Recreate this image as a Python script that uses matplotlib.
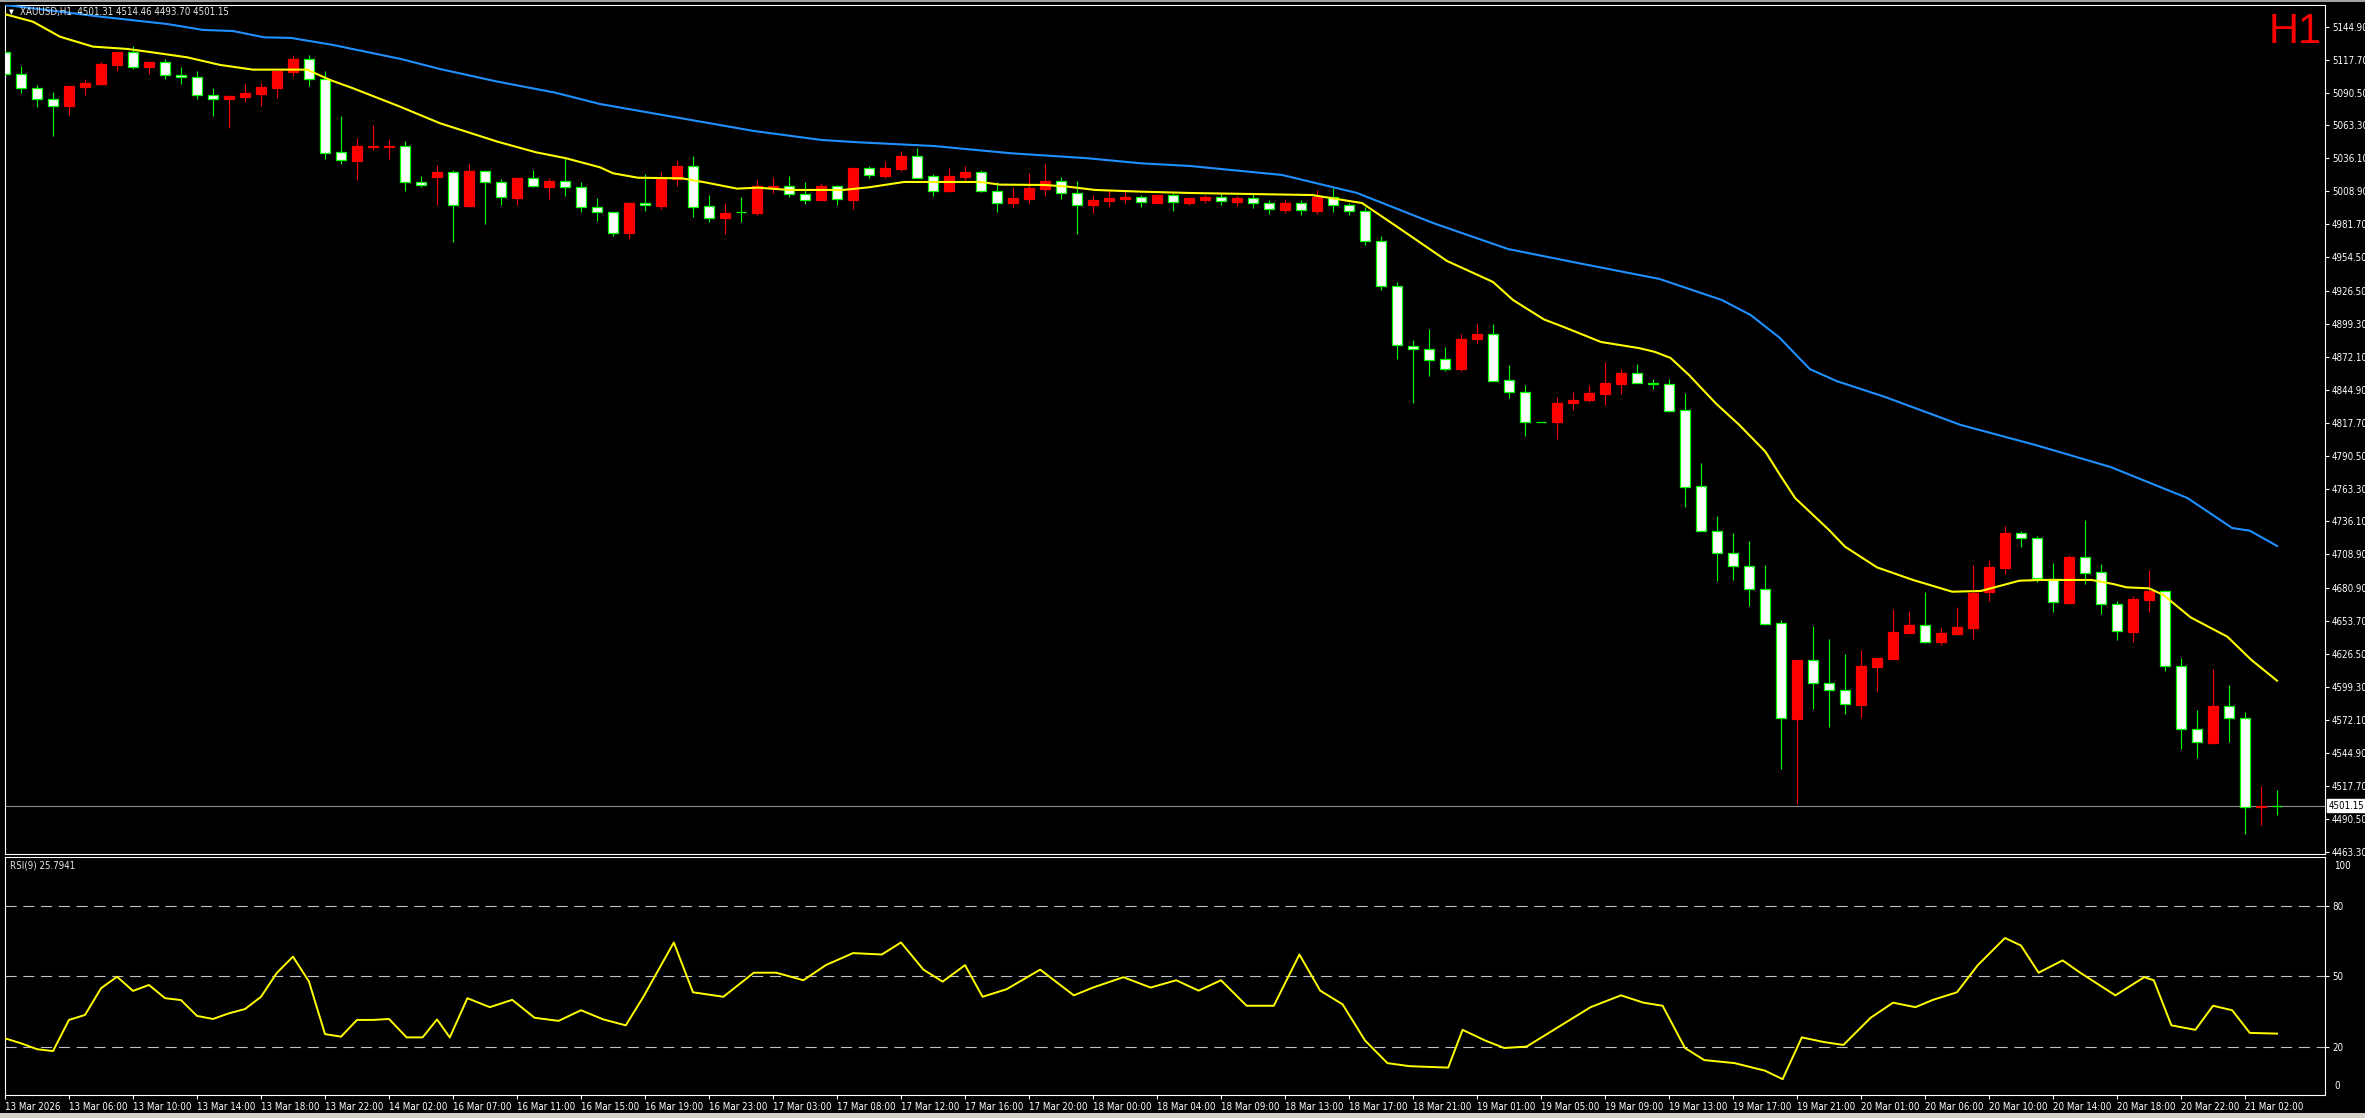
import matplotlib
matplotlib.use("Agg")
import matplotlib.pyplot as plt
from matplotlib import font_manager
from matplotlib.patches import Rectangle
import matplotlib.transforms as mtrans

# XAUUSD H1 bars (price units)
opens = [5123.8, 5105.6, 5094.0, 5084.9, 5079.6, 5095.3, 5097.8, 5113.5, 5123.8, 5111.9,
         5115.5, 5104.7, 5103.1, 5088.2, 5084.9, 5087.1, 5089.6, 5094.5, 5107.7, 5118.0,
         5101.4, 5041.1, 5034.2, 5045.8, 5045.8, 5046.1, 5016.4, 5021.0, 5024.6, 4997.0,
         5025.4, 5016.4, 5003.6, 5019.6, 5012.7, 5017.2, 5012.2, 4995.7, 4991.6, 4974.5,
         4999.0, 4997.0, 5019.3, 5029.6, 4996.5, 4987.1, 4992.2, 4991.2, 5012.5, 5013.0,
         5006.4, 5001.7, 5013.0, 5001.7, 5027.9, 5021.6, 5027.3, 5038.1, 5021.3, 5008.9,
         5020.7, 5024.6, 5009.4, 4999.2, 5002.5, 5010.8, 5017.2, 5007.3, 4997.6, 5000.9,
         5002.5, 5004.0, 4999.2, 5005.6, 4999.2, 5001.7, 5004.2, 5000.1, 5003.4, 4999.2,
         4993.4, 4999.2, 4992.6, 5004.2, 4997.6, 4992.6, 4967.8, 4930.7, 4880.8, 4878.4,
         4870.1, 4862.2, 4886.9, 4890.8, 4852.7, 4842.7, 4818.5, 4818.5, 4834.4, 4836.4,
         4841.5, 4849.8, 4858.6, 4850.9, 4849.4, 4827.9, 4765.1, 4727.9, 4709.9, 4699.0,
         4680.1, 4652.0, 4573.2, 4621.4, 4602.4, 4596.6, 4584.7, 4616.1, 4622.7, 4644.2,
         4650.3, 4636.8, 4643.4, 4648.4, 4677.6, 4697.9, 4726.3, 4722.2, 4688.8, 4669.0,
         4706.5, 4694.1, 4667.7, 4645.0, 4671.5, 4678.4, 4616.5, 4564.4, 4553.1, 4583.4,
         4573.5, 4500.0, 4501.31]
highs = [5129.8, 5112.4, 5096.7, 5090.9, 5095.9, 5101.7, 5115.7, 5124.0, 5128.9, 5116.6,
         5118.0, 5111.6, 5108.3, 5094.3, 5088.5, 5097.6, 5098.4, 5108.3, 5121.5, 5121.5,
         5108.3, 5071.1, 5052.9, 5063.4, 5052.1, 5050.5, 5021.6, 5030.6, 5026.5, 5031.5,
         5026.5, 5019.1, 5021.0, 5026.5, 5019.9, 5036.7, 5016.6, 5003.1, 4991.6, 5000.1,
         5023.2, 5024.9, 5034.8, 5038.1, 5005.9, 4999.2, 5004.2, 5018.2, 5020.7, 5021.6,
         5016.6, 5015.5, 5014.1, 5028.2, 5029.8, 5033.9, 5042.2, 5044.7, 5023.2, 5028.2,
         5029.8, 5026.3, 5016.6, 5011.6, 5024.0, 5031.5, 5020.7, 5017.4, 5005.9, 5010.0,
         5009.4, 5005.9, 5005.9, 5007.3, 5003.4, 5005.9, 5007.5, 5005.0, 5006.7, 5001.7,
         5002.5, 5001.7, 5010.0, 5011.6, 4999.2, 4995.9, 4972.0, 4934.0, 4886.0, 4895.2,
         4880.2, 4890.8, 4899.3, 4899.3, 4865.4, 4848.9, 4818.6, 4838.9, 4843.0, 4848.9,
         4867.8, 4862.2, 4866.3, 4853.9, 4853.9, 4842.3, 4784.5, 4740.6, 4726.7, 4719.9,
         4700.2, 4654.7, 4621.7, 4649.8, 4639.0, 4626.6, 4629.9, 4623.3, 4663.8, 4662.1,
         4677.8, 4647.9, 4665.2, 4700.2, 4704.3, 4732.4, 4728.2, 4724.1, 4701.8, 4708.4,
         4737.3, 4701.0, 4670.4, 4674.6, 4696.0, 4679.5, 4623.3, 4580.4, 4614.2, 4601.0,
         4578.5, 4517.6, 4514.46]
lows = [5102.3, 5090.4, 5078.8, 5054.6, 5071.9, 5088.5, 5096.7, 5108.6, 5110.2, 5106.1,
        5101.9, 5097.8, 5085.4, 5071.4, 5061.5, 5082.9, 5079.6, 5086.2, 5104.4, 5096.2,
        5035.8, 5031.7, 5018.5, 5043.3, 5035.8, 5009.4, 5012.2, 4997.8, 4967.3, 4996.2,
        4982.1, 4997.8, 4997.8, 5012.5, 5002.8, 5005.3, 4992.1, 4984.4, 4972.2, 4969.5,
        4992.9, 4994.3, 5013.3, 4987.9, 4983.8, 4973.9, 4983.8, 4989.3, 5007.5, 5004.2,
        4998.4, 5001.7, 4997.6, 4994.3, 5020.1, 5020.1, 5025.9, 5020.1, 5005.0, 5008.1,
        5018.5, 5008.6, 4991.8, 4995.9, 4999.2, 5005.0, 5002.5, 4973.9, 4991.0, 4995.9,
        4999.2, 4995.9, 4999.2, 4992.6, 4997.6, 4999.2, 4997.6, 4996.8, 4995.1, 4990.2,
        4991.0, 4989.3, 4990.2, 4991.8, 4989.3, 4964.5, 4927.4, 4870.4, 4834.1, 4856.6,
        4860.7, 4860.4, 4883.6, 4852.4, 4838.2, 4806.6, 4818.3, 4804.3, 4828.6, 4834.7,
        4832.7, 4841.5, 4850.9, 4845.6, 4826.7, 4748.0, 4727.9, 4686.9, 4688.1, 4666.2,
        4650.9, 4531.9, 4502.7, 4581.2, 4566.5, 4577.3, 4574.0, 4596.1, 4622.7, 4643.7,
        4635.9, 4634.3, 4642.6, 4639.3, 4670.7, 4693.0, 4715.3, 4686.1, 4661.6, 4668.0,
        4684.7, 4659.9, 4638.4, 4636.8, 4661.6, 4612.8, 4548.4, 4540.9, 4552.5, 4554.2,
        4477.7, 4485.6, 4493.70]
closes = [5105.6, 5094.0, 5084.9, 5079.1, 5095.9, 5098.4, 5114.1, 5124.0, 5111.4, 5115.7,
          5104.7, 5103.1, 5088.2, 5084.9, 5087.6, 5090.1, 5095.1, 5108.3, 5118.2, 5101.4,
          5040.8, 5034.5, 5046.1, 5046.3, 5046.3, 5016.4, 5013.9, 5024.9, 4997.3, 5025.7,
          5016.4, 5003.9, 5019.9, 5013.0, 5017.4, 5012.2, 4995.7, 4991.6, 4974.7, 4999.2,
          4997.3, 5020.1, 5029.8, 4996.2, 4987.1, 4990.7, 4991.6, 5013.3, 5013.3, 5006.4,
          5002.0, 5013.3, 5002.8, 5028.2, 5022.1, 5028.2, 5038.1, 5020.1, 5009.4, 5021.6,
          5024.9, 5009.4, 4999.5, 5003.4, 5011.6, 5017.4, 5007.3, 4997.8, 5001.7, 5003.4,
          5004.2, 4999.8, 5005.9, 4999.8, 5003.4, 5004.2, 5000.9, 5003.4, 4999.2, 4994.3,
          4999.2, 4993.4, 5004.2, 4997.6, 4992.6, 4967.8, 4930.7, 4881.6, 4878.4, 4869.9,
          4862.4, 4886.9, 4891.1, 4852.4, 4842.7, 4818.5, 4818.4, 4834.4, 4836.4, 4842.4,
          4850.6, 4858.9, 4850.9, 4849.4, 4827.6, 4764.5, 4727.9, 4709.9, 4699.0, 4680.1,
          4651.7, 4573.5, 4621.7, 4602.4, 4596.6, 4585.1, 4616.7, 4623.3, 4644.8, 4650.6,
          4636.8, 4643.7, 4648.7, 4677.0, 4698.5, 4726.6, 4722.2, 4689.2, 4669.4, 4706.8,
          4693.8, 4667.7, 4645.4, 4671.8, 4678.7, 4616.5, 4564.4, 4553.7, 4583.7, 4573.5,
          4500.0, 4501.3, 4501.15]

# moving averages, sampled along the drawn lines (bar index, price)
ma_fast_idx = [0, 1.75, 3.44, 5.5, 7.63, 8.88, 11.38, 13.44, 15.5, 18.88, 20.31, 21.75, 23.63,
               24.69, 27.19, 30.78, 33.19, 35.06, 37.19, 38, 39.56, 42.31, 43.75, 45.75, 47.06,
               49, 52.38, 54, 56.19, 59.06, 60.94, 62.19, 65, 66.44, 68.13, 71, 74.06, 81.69,
               84.81, 86.94, 90.13, 93, 94.25, 96.19, 97.38, 99.75, 102.1, 103.1, 104.1, 105.25,
               106.94, 108.4, 110.03, 110.94, 111.88, 114, 115, 117, 119.25, 121.7, 123.5, 125.9,
               127.25, 130.4, 131.75, 132.6, 134, 134.9, 136.6, 138.9, 140.4, 142]
ma_fast_val = [5155.2, 5149.0, 5136.6, 5128.4, 5126.5, 5124.3, 5119.6, 5113.3, 5109.4, 5109.4,
               5100.9, 5094.0, 5084.3, 5078.8, 5065.1, 5049.9, 5041.1, 5036.2, 5028.7, 5023.8,
               5020.1, 5019.6, 5016.3, 5011.1, 5011.9, 5010.0, 5010.0, 5012.2, 5016.6, 5016.6,
               5016.6, 5014.4, 5014.1, 5012.7, 5010.0, 5008.6, 5007.5, 5005.8, 4999.2, 4980.2,
               4951.3, 4934.0, 4919.1, 4903.0, 4897.0, 4884.4, 4879.4, 4876.3, 4871.2, 4857.1,
               4833.5, 4815.8, 4793.7, 4774.5, 4755.5, 4729.1, 4715.3, 4698.2, 4687.8, 4678.1,
               4678.7, 4687.2, 4687.8, 4687.8, 4684.5, 4681.7, 4680.9, 4675.4, 4656.9, 4640.9,
               4621.7, 4604.6]
ma_slow_idx = [0, 1.75, 5.94, 10.13, 12.38, 14.25, 16.19, 17.88, 20.5, 21.19, 24.81, 27.19,
               30.78, 34.38, 37.19, 46.81, 51.03, 53.31, 58.06, 62.88, 67.66, 71, 74.06, 79.81,
               84.5, 89.25, 93.94, 98.63, 103.4, 107.3, 109.1, 110.9, 112.8, 114.5, 117.5, 122.2,
               126.9, 131.6, 136.4, 139.2, 140.3, 142]
ma_slow_val = [5162.8, 5160.1, 5153.2, 5147.1, 5142.2, 5141.3, 5136.1, 5135.6, 5129.8, 5127.9,
               5118.0, 5109.9, 5099.5, 5090.4, 5081.0, 5058.7, 5051.3, 5049.4, 5046.3, 5040.3,
               5036.2, 5032.0, 5029.8, 5022.4, 5007.5, 4982.7, 4961.2, 4948.8, 4936.5, 4919.1,
               4906.7, 4888.1, 4862.0, 4852.0, 4839.0, 4816.0, 4799.3, 4781.1, 4755.5, 4730.7,
               4728.5, 4715.9]

# RSI(9), sampled along the line (bar index, value)
rsi_idx = [0, 1, 2, 3, 4, 5, 6, 7, 8, 9, 10, 11, 12, 13, 14, 15, 16, 17, 18, 19, 20, 21, 22, 23,
           24, 25.1, 26.1, 27.0, 27.8, 28.9, 30.3, 31.7, 33.1, 34.6, 36.0, 37.4, 38.8, 39.9,
           41.8, 43.0, 44.9, 46.8, 48.2, 49.9, 51.3, 53.0, 54.8, 56.0, 57.4, 58.6, 60.0, 61.1,
           62.6, 64.7, 66.8, 68.0, 69.9, 71.6, 73.2, 74.6, 76.0, 77.6, 79.3, 80.9, 82.2, 83.6,
           85.0, 86.4, 87.8, 90.2, 91.1, 92.5, 93.7, 95.1, 96.8, 99.1, 101.0, 102.4, 103.6,
           105.0, 106.2, 108.1, 110.0, 111.1, 112.3, 113.7, 114.9, 116.6, 118.0, 119.4, 120.5,
           122.0, 123.3, 125.0, 126.0, 127.1, 128.6, 129.7, 131.9, 133.7, 134.3, 135.4, 136.9,
           138.0, 139.2, 140.3, 142.0]
rsi_val = [23.8, 21.7, 19.2, 18.4, 31.6, 33.7, 45.0, 49.9, 43.9, 46.4, 40.8, 40.0, 33.3, 32.0,
           34.4, 36.2, 41.4, 51.6, 58.4, 47.8, 25.6, 24.5, 31.6, 31.6, 32.0, 24.2, 24.2, 31.8,
           24.2, 40.8, 37.0, 40.1, 32.5, 31.2, 35.7, 31.8, 29.3, 41.4, 64.4, 43.3, 41.4, 51.6,
           51.6, 48.4, 54.8, 59.9, 59.3, 64.4, 52.9, 47.8, 54.8, 41.4, 44.6, 52.9, 42.0, 45.3,
           49.7, 45.3, 48.4, 44.0, 48.4, 37.6, 37.6, 59.3, 44.0, 38.2, 22.9, 13.3, 12.0, 11.4,
           27.4, 22.9, 19.7, 20.3, 27.4, 37.0, 42.0, 38.9, 37.6, 19.7, 14.6, 13.3, 10.1, 6.5,
           24.2, 22.2, 21.0, 32.5, 38.9, 37.0, 40.1, 43.3, 54.8, 66.3, 63.1, 51.6, 56.8, 51.6,
           42.0, 49.7, 48.4, 29.3, 27.4, 37.6, 35.7, 26.1, 25.8]
rsi_levels = [80, 50, 20]

price_ticks = [5144.90, 5117.70, 5090.50, 5063.30, 5036.10, 5008.90, 4981.70, 4954.50, 4926.50,
               4899.30, 4872.10, 4844.90, 4817.70, 4790.50, 4763.30, 4736.10, 4708.90, 4680.90,
               4653.70, 4626.50, 4599.30, 4572.10, 4544.90, 4517.70, 4490.50, 4463.30]
time_labels = ["13 Mar 2026", "13 Mar 06:00", "13 Mar 10:00", "13 Mar 14:00", "13 Mar 18:00",
               "13 Mar 22:00", "14 Mar 02:00", "16 Mar 07:00", "16 Mar 11:00", "16 Mar 15:00",
               "16 Mar 19:00", "16 Mar 23:00", "17 Mar 03:00", "17 Mar 08:00", "17 Mar 12:00",
               "17 Mar 16:00", "17 Mar 20:00", "18 Mar 00:00", "18 Mar 04:00", "18 Mar 09:00",
               "18 Mar 13:00", "18 Mar 17:00", "18 Mar 21:00", "19 Mar 01:00", "19 Mar 05:00",
               "19 Mar 09:00", "19 Mar 13:00", "19 Mar 17:00", "19 Mar 21:00", "20 Mar 01:00",
               "20 Mar 06:00", "20 Mar 10:00", "20 Mar 14:00", "20 Mar 18:00", "20 Mar 22:00",
               "21 Mar 02:00"]
last_price = 4501.15
header = "XAUUSD,H1  4501.31 4514.46 4493.70 4501.15"
rsi_title = "RSI(9) 25.7941"

# pick a narrow font for the small terminal labels if one is around
fonts = font_manager.fontManager.ttflist
names = {f.name for f in fonts}
stretch = "normal"
if "Liberation Sans Narrow" in names:
    fam, fs = "Liberation Sans Narrow", 8
elif any(f.name == "DejaVu Sans" and f.stretch == "condensed" for f in fonts):
    fam, fs, stretch = "DejaVu Sans", 7, "condensed"
else:
    fam, fs = "Liberation Sans", 7
plt.rcParams["font.family"] = [fam, "DejaVu Sans"]
plt.rcParams["font.stretch"] = stretch

W, H = 2365, 1118
fig = plt.figure(figsize=(W / 100, H / 100), dpi=100, facecolor="black")


def fx(px):
    return px / W


def fy(py):
    return 1 - py / H


ax = fig.add_axes([fx(5), fy(854), fx(2325) - fx(5), fy(5) - fy(854)], facecolor="black")
rx = fig.add_axes([fx(5), fy(1095), fx(2325) - fx(5), fy(857) - fy(1095)], facecolor="black")

for a in (ax, rx):
    for s in a.spines.values():
        s.set_color("white")
        s.set_linewidth(0.8)
    a.set_xlim(0, 145)

# candles
n = len(opens)
for i in range(n):
    o, h, l, c = opens[i], highs[i], lows[i], closes[i]
    up = c > o
    col = "#ff0000" if up else "#00ff00"
    ax.vlines(i, l, h, colors=col, linewidth=0.8, zorder=2)
    ax.bar(i, abs(c - o), bottom=min(o, c), width=0.64,
           color="#ff0000" if up else "white",
           edgecolor=col, linewidth=0.9, zorder=3)

ax.plot(ma_fast_idx, ma_fast_val, color="#ffff00", lw=1.5, zorder=4)
ax.plot(ma_slow_idx, ma_slow_val, color="#1e90ff", lw=1.5, zorder=4)
ax.axhline(last_price, color="#8c8c8c", lw=0.8, zorder=1)

ax.set_ylim(4461.4, 5162.8)
ax.set_xticks([])
ax.yaxis.tick_right()
ax.set_yticks(price_ticks)
ax.set_yticklabels(["%.2f" % v for v in price_ticks])
ax.tick_params(axis="y", colors="white", labelcolor="white", labelsize=fs,
               length=3, width=0.8, pad=2, direction="out")
ax.annotate("%.2f" % last_price, xy=(1.0015, last_price),
            xycoords=("axes fraction", "data"), ha="left", va="center",
            fontsize=fs, color="black", annotation_clip=False,
            bbox=dict(boxstyle="square,pad=0.15", facecolor="white", edgecolor="white"))

# RSI panel
rx.plot(rsi_idx, rsi_val, color="#ffff00", lw=1.4, zorder=3)
for lv in rsi_levels:
    rx.axhline(lv, color="#c0c0c0", lw=0.8, dashes=(10, 6), zorder=1)
rx.set_ylim(-0.2, 100.6)
rx.yaxis.tick_right()
rx.set_yticks(rsi_levels)
rx.set_yticklabels([str(v) for v in rsi_levels])
rx.tick_params(axis="y", colors="white", labelcolor="white", labelsize=fs,
               length=3, width=0.8, pad=2)
tr = mtrans.blended_transform_factory(rx.transAxes, rx.transData)
rx.text(1.004, 99, "100", transform=tr, ha="left", va="top", color="white", fontsize=fs)
rx.text(1.004, 1.5, "0", transform=tr, ha="left", va="bottom", color="white", fontsize=fs)
rx.set_xticks(list(range(0, 4 * len(time_labels), 4)))
rx.set_xticklabels(time_labels, ha="left")
rx.tick_params(axis="x", colors="white", labelcolor="white", labelsize=fs,
               length=3, width=0.8, pad=2)

# texts
fig.text(fx(9), fy(12), "\u25bc", color="white", fontsize=5, va="center",
         family="DejaVu Sans")
fig.text(fx(20), fy(12), header, color="#e6e6e6", fontsize=fs, va="center")
fig.text(fx(10), fy(866), rsi_title, color="#e6e6e6", fontsize=fs, va="center")
fig.text(fx(2322), fy(12), "H1", color="#ff0000", fontsize=30, ha="right", va="top",
         family="Liberation Sans")

# window chrome strips
fig.patches.append(Rectangle((0, 0), 1, 5 / H, transform=fig.transFigure,
                             facecolor="#d4d0c8", edgecolor="none"))
fig.patches.append(Rectangle((0, fy(2)), 1, 2 / H, transform=fig.transFigure,
                             facecolor="#a0a0a0", edgecolor="none"))

fig.savefig("out.png", dpi=100, facecolor="black")
